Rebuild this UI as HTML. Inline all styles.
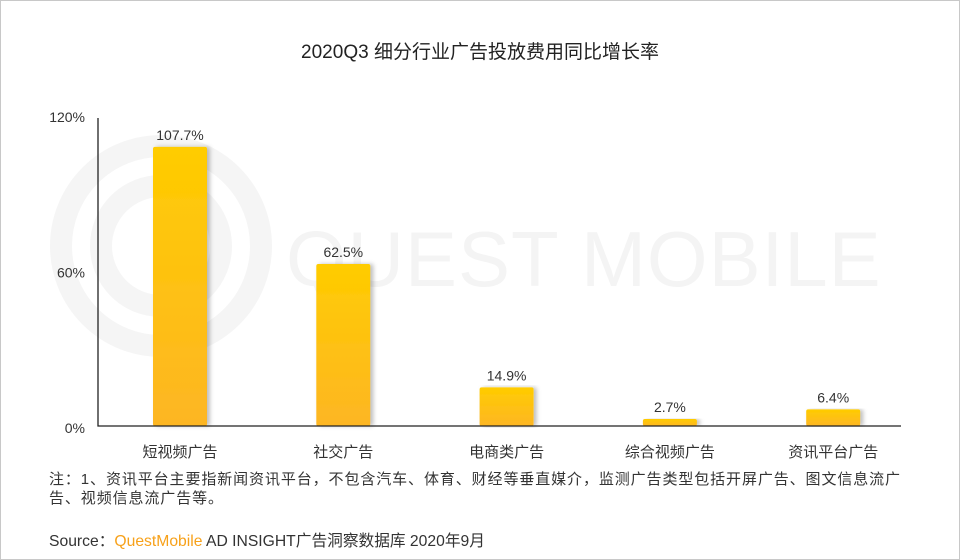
<!DOCTYPE html>
<html><head><meta charset="utf-8"><style>
body{margin:0;background:#fff}
#c{position:relative;width:958px;height:558px;border:1px solid #c8c8c8;overflow:hidden;font-family:"Liberation Sans","Noto Sans CJK SC",sans-serif;color:#333}
.t{position:absolute;white-space:nowrap}
</style></head><body>
<div id="c">
<svg width="958" height="558" style="position:absolute;left:0;top:0">
<g fill="none" stroke="#f5f5f5" stroke-width="22"><circle cx="160" cy="245" r="100"/><circle cx="160" cy="245" r="60"/></g>
<text x="285" y="285" font-size="78" fill="#f4f4f4" font-family="Liberation Sans,sans-serif" letter-spacing="1">QUEST MOBILE</text>
</svg>
<div class="t" style="left:0;width:958px;text-align:center;top:36px;font-size:19px;color:#222">2020Q3 细分行业广告投放费用同比增长率</div>
<svg id="plot" width="958" height="558" style="position:absolute;left:0;top:0">
<defs>
<linearGradient id="g" x1="0" y1="0" x2="0" y2="1"><stop offset="0" stop-color="#ffcc00"/><stop offset="1" stop-color="#fdb624"/></linearGradient>
<filter id="s" x="-20%" y="-5%" width="150%" height="110%"><feDropShadow dx="3" dy="0" stdDeviation="2" flood-color="#000" flood-opacity="0.25"/></filter>
</defs>
</svg>
<div class="t" style="left:48px;top:469px;font-size:15px;letter-spacing:0.9px;line-height:19px;color:#333">注：1、资讯平台主要指新闻资讯平台，不包含汽车、体育、财经等垂直媒介，监测广告类型包括开屏广告、图文信息流广<br>告、视频信息流广告等。</div>
<div class="t" style="left:48px;top:527px;font-size:15.7px;color:#333">Source：<span style="color:#f7a11a">QuestMobile</span> AD INSIGHT广告洞察数据库 2020年9月</div>
</div>
<script>
const categories=["短视频广告","社交广告","电商类广告","综合视频广告","资讯平台广告"];
const values=[107.7,62.5,14.9,2.7,6.4];
const labels=["107.7%","62.5%","14.9%","2.7%","6.4%"];
const ticks=[0,60,120];
const tickLabels=["0%","60%","120%"];
const NS="http://www.w3.org/2000/svg";
const svg=document.getElementById('plot');
const y0=425,y1=114,vmax=120,axisX=97,firstC=179,step=163.3,bw=54;
const y=v=>y0-(v/vmax)*(y0-y1);
const x=i=>firstC+i*step;
function mk(tag,a){const e=document.createElementNS(NS,tag);for(const k in a)e.setAttribute(k,a[k]);svg.appendChild(e);return e;}
ticks.forEach((t,i)=>{
 const e=mk('text',{x:axisX-13,y:y(t)+7,'text-anchor':'end','font-size':14,fill:'#333'});
 e.textContent=tickLabels[i];
 
 
});
values.forEach((v,i)=>{
 const r=mk('rect',{x:x(i)-bw/2,y:y(v),width:bw,height:y0-y(v),rx:2,fill:'url(#g)',filter:'url(#s)'});
 
 
 const l=mk('text',{x:x(i),y:y(v)-7,'text-anchor':'middle','font-size':14,fill:'#333'});
 l.textContent=labels[i];
 
 
 const c=mk('text',{x:x(i),y:456,'text-anchor':'middle','font-size':15,fill:'#333'});
 c.textContent=categories[i];
 
 
});
const ax=mk('path',{d:`M${axisX} 117V${y0}H900`,stroke:'#222','stroke-width':1.3,fill:'none'});


</script>
</body></html>
